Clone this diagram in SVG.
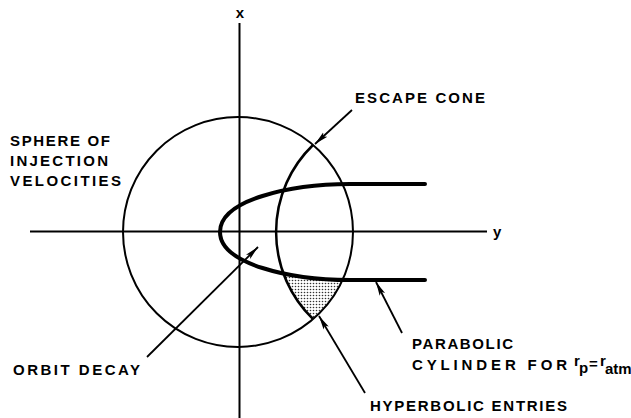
<svg xmlns="http://www.w3.org/2000/svg" width="631" height="418" viewBox="0 0 631 418">
<style>
.lbl{font-family:"Liberation Sans",Arial,sans-serif;font-weight:bold;font-size:15px;fill:#000}
.ax{stroke:#000;stroke-width:2;fill:none}
.thin{stroke:#000;stroke-width:2;fill:none}
.thick{stroke:#000;stroke-width:4;fill:none;stroke-linecap:round}
.lead{stroke:#000;stroke-width:1.8;fill:none}
</style>
<defs>
<pattern id="dots" width="3" height="3" patternUnits="userSpaceOnUse">
<circle cx="1.5" cy="1.5" r="0.8" fill="#333"/>
</pattern>
<marker id="ah" markerUnits="userSpaceOnUse" markerWidth="16" markerHeight="10" refX="14" refY="4" orient="auto">
<path d="M0,1 L14,4 L0,7 L3,4 Z" fill="#000"/>
</marker>
</defs>
<rect width="631" height="418" fill="#fff"/>
<g id="axes">
<line class="ax" x1="239.5" y1="23" x2="239.5" y2="418"/>
<line class="ax" x1="30" y1="231.5" x2="487" y2="231.5"/>
<text class="lbl" x="240" y="18" font-size="12" text-anchor="middle">x</text>
<text class="lbl" x="493" y="237">y</text>
</g>
<g id="sphere">
<circle class="thin" cx="238" cy="232" r="115"/>
<text class="lbl" x="10" y="146" textLength="100" lengthAdjust="spacing">SPHERE OF</text>
<text class="lbl" x="10" y="166" textLength="98" lengthAdjust="spacing">INJECTION</text>
<text class="lbl" x="10" y="186" textLength="111" lengthAdjust="spacing">VELOCITIES</text>
</g>
<g id="hyperbolic-entries">
<path d="M283,272 L300,275.5 L320,278 L342,279.5 A115,115 0 0 1 313,319 A121,121 0 0 1 283,272 Z" fill="url(#dots)"/>
<text class="lbl" x="370" y="411" textLength="197" lengthAdjust="spacing">HYPERBOLIC ENTRIES</text>
</g>
<g id="escape-cone">
<path d="M313,145 A121,121 0 0 0 313,319" stroke="#000" stroke-width="2.5" fill="none"/>
<text class="lbl" x="355" y="103" textLength="130" lengthAdjust="spacing">ESCAPE CONE</text>
</g>
<g id="parabolic-cylinder">
<path class="thick" d="M425,184 L350,184 C290,184 220,200 220,232 C220,264 290,280 350,280 L425,280"/>
<text class="lbl" x="412" y="349" textLength="101" lengthAdjust="spacing">PARABOLIC</text>
<text class="lbl" x="412" y="370" textLength="155" lengthAdjust="spacing">CYLINDER FOR</text>
<text class="lbl" x="574" y="366" font-size="11" font-weight="normal">r</text>
<text class="lbl" x="579" y="373" font-size="13">p</text>
<text class="lbl" x="589" y="369" font-size="12" font-weight="normal">=</text>
<text class="lbl" x="600" y="366" font-size="11" font-weight="normal">r</text>
<text class="lbl" x="605" y="374" font-size="10">atm</text>
</g>
<g id="orbit-decay">
<text class="lbl" x="13" y="375" textLength="127" lengthAdjust="spacing">ORBIT DECAY</text>
</g>
<g id="connectors">
<line class="lead" x1="352" y1="110" x2="315" y2="144" marker-end="url(#ah)"/>
<line class="lead" x1="147" y1="357" x2="258" y2="247" marker-end="url(#ah)"/>
<line class="lead" x1="365" y1="393" x2="319" y2="316" marker-end="url(#ah)"/>
<line class="lead" x1="402" y1="333" x2="376" y2="282" marker-end="url(#ah)"/>
</g>
</svg>
